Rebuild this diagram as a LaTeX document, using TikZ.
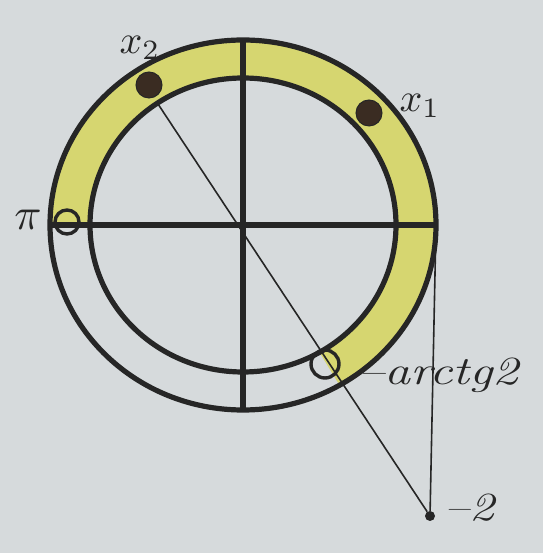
\documentclass[tikz,border=0pt]{standalone}
\usetikzlibrary{calc}
\begin{document}
\begin{tikzpicture}[x=1pt,y=1pt]
\definecolor{paper}{RGB}{214,218,220}
\definecolor{ink}{RGB}{38,38,38}
\definecolor{ring}{RGB}{214,214,112}
\definecolor{dotc}{RGB}{58,44,34}
\tikzset{
  thickline/.style={draw=ink,line width=5.2pt},
  thinline/.style={draw=ink,line width=1.6pt},
  fulldot/.style={circle,fill=dotc,draw=ink,line width=1pt,inner sep=0pt,minimum size=26pt},
  opendot/.style={circle,draw=ink,line width=3.4pt,inner sep=0pt,minimum size=24pt},
  lbl/.style={text=ink,font=\fontsize{40}{44}\selectfont\itshape,inner sep=0pt},
  mlbl/.style={text=ink,inner sep=0pt}
}
\fill[paper] (0,0) rectangle (543,553);
\useasboundingbox (0,0) rectangle (543,553);
\coordinate (C) at (243,328);
% yellow ring part
\fill[ring] ($(C)+(-60:193 and 185)$) arc[start angle=-60,end angle=180,x radius=193,y radius=185]
  -- ($(C)+(180:153 and 147)$) arc[start angle=180,end angle=-60,x radius=153,y radius=147] -- cycle;
% circles
\draw[thickline] (C) ellipse[x radius=193,y radius=185];
\draw[thickline] (C) ellipse[x radius=153,y radius=147];
% axes
\coordinate (L) at (50,328);
\coordinate (R) at (436,328);
\coordinate (T) at (243,513);
\coordinate (B) at (243,143);
\draw[thickline] (L) -- (R);
\draw[thickline] (T) -- (B);
% points
\node[fulldot] (x2) at (149,468) {};
\node[fulldot] (x1) at (369,440) {};
\node[opendot] (pi) at (67,331) {};
\node[opendot,minimum size=28pt] (ar) at (325,189) {};
\node[circle,fill=ink,inner sep=0pt,minimum size=10pt] (m2) at (430,37) {};
\coordinate (S) at (158,449);
% construction lines
\draw[thinline] (S) -- (m2);
\draw[thinline] (R) -- (m2);
% labels
\node[mlbl] at (140,505) {\scalebox{4}{$x_2$}};
\node[mlbl] at (420,447) {\scalebox{4}{$x_1$}};
\node[mlbl] at (28,333) {\scalebox{4.5}{$\pi$}};
\node[lbl,anchor=west] at (358,178) {\scalebox{1.3}[1]{--arctg2}};
\node[lbl,anchor=west] at (444,45) {\scalebox{1.25}[1]{--2}};
\end{tikzpicture}
\end{document}
